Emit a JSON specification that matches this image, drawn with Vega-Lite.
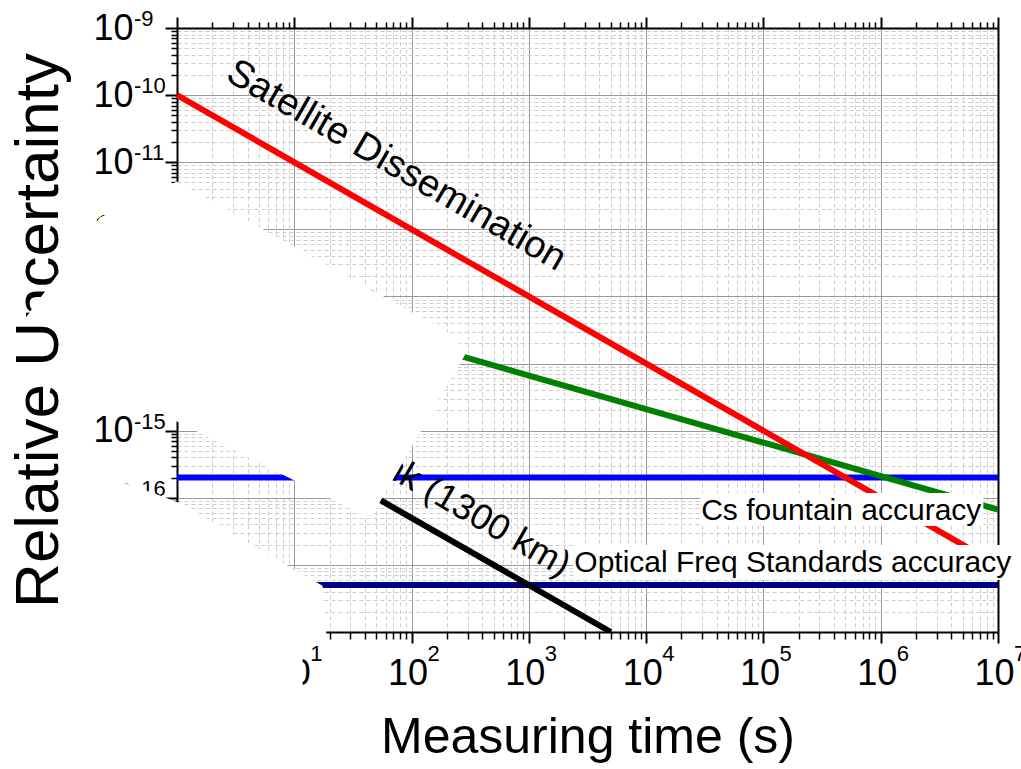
{
  "$schema": "https://vega.github.io/schema/vega-lite/v6.json",
  "width": 821,
  "height": 604,
  "autosize": {"type": "none"},
  "padding": {"left": 177, "top": 28, "right": 23, "bottom": 137},
  "background": "white",
  "config": {
    "view": {"stroke": null},
    "font": "Liberation Sans",
    "axis": {
      "labelFont": "Liberation Sans",
      "titleFont": "Liberation Sans",
      "labelColor": "black",
      "titleColor": "black",
      "tickColor": "black",
      "domainColor": "black",
      "domainWidth": 2,
      "tickWidth": 2,
      "titleFontWeight": "normal",
      "labelFlush": false,
      "labelOverlap": false,
      "gridColor": "#9a9a9a",
      "gridWidth": 1,
      "zindex": 0
    }
  },
  "datasets": {
    "hlines": [
      {"s": "Cs fountain accuracy", "t": 1, "v": 2e-16},
      {"s": "Cs fountain accuracy", "t": 10000000, "v": 2e-16},
      {"s": "Optical Freq Standards accuracy", "t": 1, "v": 5e-18},
      {"s": "Optical Freq Standards accuracy", "t": 10000000, "v": 5e-18}
    ],
    "slines": [
      {"s": "Cs fountains", "t": 1, "v": 2.1e-13},
      {"s": "Cs fountains", "t": 10000000, "v": 6.64e-17},
      {"s": "Satellite Dissemination", "t": 1, "v": 1e-10},
      {"s": "Satellite Dissemination", "t": 10000000, "v": 1e-17},
      {"s": "Fiber link (1300 km)", "t": 1, "v": 5e-15},
      {"s": "Fiber link (1300 km)", "t": 5000, "v": 1e-18}
    ],
    "xexp": [
      {"e": "0", "t": 1}, {"e": "1", "t": 10}, {"e": "2", "t": 100}, {"e": "3", "t": 1000},
      {"e": "4", "t": 10000}, {"e": "5", "t": 100000}, {"e": "6", "t": 1000000}, {"e": "7", "t": 10000000}
    ],
    "yexp": [
      {"e": "-18", "v": 1e-18}, {"e": "-17", "v": 1e-17}, {"e": "-16", "v": 1e-16}, {"e": "-15", "v": 1e-15},
      {"e": "-14", "v": 1e-14}, {"e": "-13", "v": 1e-13}, {"e": "-12", "v": 1e-12}, {"e": "-11", "v": 1e-11},
      {"e": "-10", "v": 1e-10}, {"e": "-9", "v": 1e-9}
    ],
    "fiberlabel": [{"label": "Fiber link (1300 km)", "t": 142.8, "v": 1.374e-16}],
    "cslabel": [{"label": "Cs fountains", "t": 7.56, "v": 2.312e-13}],
    "satlabel": [{"label": "Satellite Dissemination", "t": 73.8, "v": 8.8e-12}],
    "occl": [
      {"p": "u", "i": 1, "t": 1, "v": 5.075e-12},
      {"p": "u", "i": 2, "t": 213.1, "v": 2.756e-14},
      {"p": "u", "i": 3, "t": 291.7, "v": 1.487e-14},
      {"p": "u", "i": 4, "t": 44.29, "v": 4.994e-17},
      {"p": "u", "i": 5, "t": 1, "v": 1.393e-15},
      {"p": "u", "i": 6, "t": 0.1998, "v": 5.884e-15},
      {"p": "u", "i": 7, "t": 0.113, "v": 4.021e-14},
      {"p": "u", "i": 8, "t": 0.04858, "v": 4.16e-14},
      {"p": "u", "i": 9, "t": 0.2204, "v": 1.475e-12},
      {"p": "w", "i": 1, "t": 1.0607, "v": 8.16e-17},
      {"p": "w", "i": 2, "t": 17.25, "v": 4.845e-18},
      {"p": "w", "i": 3, "t": 18.66, "v": 8.713e-19},
      {"p": "w", "i": 4, "t": 11.65, "v": 7.598e-19},
      {"p": "w", "i": 5, "t": 11.65, "v": 9.696e-20},
      {"p": "w", "i": 6, "t": 0.1741, "v": 9.696e-20},
      {"p": "w", "i": 7, "t": 0.1741, "v": 2.184e-16},
      {"p": "w", "i": 8, "t": 0.3265, "v": 1.718e-16},
      {"p": "w", "i": 9, "t": 0.7161, "v": 1.062e-16}
    ],
    "boxes": [
      {"label": "Cs fountain accuracy", "t": 28900, "t2": 7500000, "v": 1.178e-16, "v2": 3.79e-17, "tc": 461000, "vc": 6.35e-17},
      {"label": "Optical Freq Standards accuracy", "t": 2387, "t2": 12240000, "v": 1.977e-17, "v2": 5.96e-18, "tc": 177800, "vc": 1.067e-17}
    ]
  },
  "layer": [
    {
      "data": {"name": "hlines"},
      "mark": {"type": "line", "strokeWidth": 6, "strokeCap": "butt", "clip": true},
      "encoding": {
        "x": {
          "field": "t", "type": "quantitative",
          "scale": {"type": "log", "domain": [1, 10000000], "nice": false},
          "axis": {
            "orient": "bottom",
            "values": [1, 10, 100, 1000, 10000, 100000, 1000000, 10000000],
            "labelExpr": "'10'",
            "labelFontSize": 36, "labelPadding": 13, "labelOffset": -4, "tickSize": 11,
            "grid": true,
            "title": "Measuring time (s)", "titleFontSize": 50, "titlePadding": 21
          }
        },
        "y": {
          "field": "v", "type": "quantitative",
          "scale": {"type": "log", "domain": [1e-18, 1e-9], "nice": false},
          "axis": {
            "orient": "left",
            "values": [1e-18, 1e-17, 1e-16, 1e-15, 1e-14, 1e-13, 1e-12, 1e-11, 1e-10, 1e-9],
            "labelExpr": "'10'",
            "labelFontSize": 36, "labelPadding": 32, "tickSize": 12,
            "grid": true,
            "title": "Relative Uncertainty", "titleFontSize": 62, "titlePadding": 22
          }
        },
        "color": {
          "field": "s", "type": "nominal", "legend": null,
          "scale": {
            "domain": ["Cs fountain accuracy", "Optical Freq Standards accuracy", "Cs fountains", "Satellite Dissemination", "Fiber link (1300 km)"],
            "range": ["#0000ff", "#000080", "#008000", "#ff0000", "#000000"]
          }
        }
      }
    },
    {
      "data": {"name": "slines"},
      "mark": {"type": "line", "strokeWidth": 6, "strokeCap": "butt", "clip": true},
      "encoding": {
        "x": {
          "field": "t", "type": "quantitative",
          "scale": {"type": "log", "domain": [1, 10000000], "nice": false},
          "axis": {
            "orient": "bottom",
            "values": [2,3,4,5,6,7,8,9,20,30,40,50,60,70,80,90,200,300,400,500,600,700,800,900,2000,3000,4000,5000,6000,7000,8000,9000,20000,30000,40000,50000,60000,70000,80000,90000,200000,300000,400000,500000,600000,700000,800000,900000,2000000,3000000,4000000,5000000,6000000,7000000,8000000,9000000],
            "labels": false, "tickSize": 7, "tickWidth": 1.5, "domain": false,
            "grid": true, "gridDash": [4, 3], "gridColor": "#cccccc", "title": null
          }
        },
        "y": {
          "field": "v", "type": "quantitative",
          "scale": {"type": "log", "domain": [1e-18, 1e-9], "nice": false},
          "axis": {
            "orient": "left",
            "values": [2e-18,3e-18,4e-18,5e-18,6e-18,7e-18,8e-18,9e-18,2e-17,3e-17,4e-17,5e-17,6e-17,7e-17,8e-17,9e-17,2e-16,3e-16,4e-16,5e-16,6e-16,7e-16,8e-16,9e-16,2e-15,3e-15,4e-15,5e-15,6e-15,7e-15,8e-15,9e-15,2e-14,3e-14,4e-14,5e-14,6e-14,7e-14,8e-14,9e-14,2e-13,3e-13,4e-13,5e-13,6e-13,7e-13,8e-13,9e-13,2e-12,3e-12,4e-12,5e-12,6e-12,7e-12,8e-12,9e-12,2e-11,3e-11,4e-11,5e-11,6e-11,7e-11,8e-11,9e-11,2e-10,3e-10,4e-10,5e-10,6e-10,7e-10,8e-10,9e-10],
            "labels": false, "tickSize": 6, "tickWidth": 1.5, "domain": false,
            "grid": true, "gridDash": [4, 3], "gridColor": "#cccccc", "title": null
          }
        },
        "color": {
          "field": "s", "type": "nominal", "legend": null,
          "scale": {
            "domain": ["Cs fountain accuracy", "Optical Freq Standards accuracy", "Cs fountains", "Satellite Dissemination", "Fiber link (1300 km)"],
            "range": ["#0000ff", "#000080", "#008000", "#ff0000", "#000000"]
          }
        }
      }
    },
    {
      "data": {"name": "fiberlabel"},
      "mark": {"type": "text", "angle": 30, "fontSize": 36, "align": "center", "baseline": "middle", "color": "black"},
      "encoding": {
        "x": {
          "field": "t", "type": "quantitative",
          "axis": {
            "orient": "top",
            "values": [1, 10, 100, 1000, 10000, 100000, 1000000, 10000000],
            "labels": false, "tickSize": 11, "grid": false, "domain": true, "title": null
          }
        },
        "y": {
          "field": "v", "type": "quantitative",
          "axis": {"orient": "right", "ticks": false, "labels": false, "grid": false, "domain": true, "title": null}
        },
        "text": {"field": "label"}
      }
    },
    {
      "data": {"name": "cslabel"},
      "mark": {"type": "text", "angle": 16, "fontSize": 36, "align": "center", "baseline": "middle", "color": "black"},
      "encoding": {
        "x": {
          "field": "t", "type": "quantitative",
          "axis": {
            "orient": "top",
            "values": [2,3,4,5,6,7,8,9,20,30,40,50,60,70,80,90,200,300,400,500,600,700,800,900,2000,3000,4000,5000,6000,7000,8000,9000,20000,30000,40000,50000,60000,70000,80000,90000,200000,300000,400000,500000,600000,700000,800000,900000,2000000,3000000,4000000,5000000,6000000,7000000,8000000,9000000],
            "labels": false, "tickSize": 6, "tickWidth": 1.5, "grid": false, "domain": false, "title": null
          }
        },
        "y": {"field": "v", "type": "quantitative", "axis": null},
        "text": {"field": "label"}
      }
    },
    {
      "data": {"name": "xexp"},
      "mark": {"type": "text", "fontSize": 22, "align": "left", "baseline": "middle", "dx": 16, "dy": 22, "color": "black", "clip": false},
      "encoding": {
        "x": {"field": "t", "type": "quantitative", "axis": null},
        "y": {"datum": 1e-18, "type": "quantitative", "axis": null},
        "text": {"field": "e"}
      }
    },
    {
      "data": {"name": "yexp"},
      "mark": {"type": "text", "fontSize": 22, "align": "left", "baseline": "middle", "dx": -43, "dy": -9, "color": "black", "clip": false},
      "encoding": {
        "x": {"datum": 1, "type": "quantitative", "axis": null},
        "y": {"field": "v", "type": "quantitative", "axis": null},
        "text": {"field": "e"}
      }
    },
    {
      "data": {"name": "occl"},
      "mark": {"type": "line", "interpolate": "linear-closed", "fill": "white", "stroke": "white", "strokeWidth": 1, "clip": false},
      "encoding": {
        "x": {"field": "t", "type": "quantitative", "axis": null},
        "y": {"field": "v", "type": "quantitative", "axis": null},
        "detail": {"field": "p"},
        "order": {"field": "i", "type": "quantitative"}
      }
    },
    {
      "data": {"name": "satlabel"},
      "mark": {"type": "text", "angle": 30, "fontSize": 38, "align": "center", "baseline": "middle", "color": "black"},
      "encoding": {
        "x": {"field": "t", "type": "quantitative", "axis": null},
        "y": {"field": "v", "type": "quantitative", "axis": null},
        "text": {"field": "label"}
      }
    },
    {
      "data": {"name": "boxes"},
      "mark": {"type": "rect", "fill": "white", "stroke": null, "clip": false},
      "encoding": {
        "x": {"field": "t", "type": "quantitative", "axis": null},
        "x2": {"field": "t2"},
        "y": {"field": "v", "type": "quantitative", "axis": null},
        "y2": {"field": "v2"}
      }
    },
    {
      "data": {"name": "boxes"},
      "mark": {"type": "text", "fontSize": 30, "align": "center", "baseline": "middle", "color": "black"},
      "encoding": {
        "x": {"field": "tc", "type": "quantitative", "axis": null},
        "y": {"field": "vc", "type": "quantitative", "axis": null},
        "text": {"field": "label"}
      }
    }
  ],
  "resolve": {"axis": {"x": "independent", "y": "independent"}}
}
